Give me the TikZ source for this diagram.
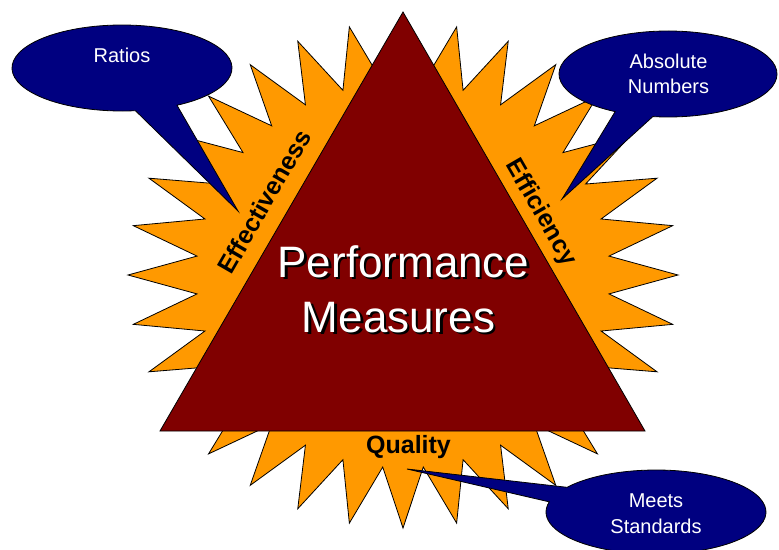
\documentclass[tikz,border=0pt]{standalone}
\usepackage{fontspec}
\setmainfont{Liberation Sans}
\usetikzlibrary{calc}
\definecolor{burst}{HTML}{FF9900}
\definecolor{maroonfill}{HTML}{800000}
\definecolor{navyfill}{HTML}{000080}
\begin{document}
\begin{tikzpicture}[x=1pt,y=-1pt,
  outline/.style={draw=black,line width=0.8pt,line join=miter},
  callout/.style={outline,fill=navyfill},
  bigtext/.style={font=\fontsize{44}{50}\selectfont,anchor=base,inner sep=0pt},
  edgelabel/.style={font=\bfseries\fontsize{25}{30}\selectfont,anchor=base,inner sep=0pt,text=black},
  calltext/.style={font=\fontsize{20}{25}\selectfont,anchor=base,inner sep=0pt,text=white}]
\clip (0,0) rectangle (779,549);
\fill[white] (0,0) rectangle (779,549);
% starburst
\draw[outline,fill=burst] plot[samples at={0,...,63}]
  ({403+(275-68*mod(\x,2))*cos(270+\x*5.625)},{275+(253-60*mod(\x,2))*sin(270+\x*5.625)}) -- cycle;
% triangle
\coordinate (apex) at (403,12);
\coordinate (bl) at (160,431);
\coordinate (br) at (645,431);
\draw[outline,fill=maroonfill] (apex) -- (bl) -- (br) -- cycle;
% callouts
\coordinate (rc) at (122,68);
\coordinate (rtip) at (238,211);
\draw[callout] (rtip) -- ($(rc)+(60:110 and 43)$) arc[start angle=60,end angle=-277,x radius=110,y radius=43] -- cycle;
\coordinate (ac) at (668,74);
\coordinate (atip) at (562,199);
\draw[callout] (atip) -- ($(ac)+(119:109 and 43)$) arc[start angle=119,end angle=458,x radius=109,y radius=43] -- cycle;
\coordinate (mc) at (656,512);
\coordinate (mtip) at (407,469);
\draw[callout] (mtip) -- ($(mc)+(216:110 and 42)$) arc[start angle=216,end angle=554,x radius=110,y radius=42] -- cycle;
% callout texts
\node[calltext] (ratios) at (122,62) {Ratios};
\node[calltext] (absolute) at (668.5,68) {Absolute};
\node[calltext] (numbers) at (668.5,93) {Numbers};
\node[calltext] (meets) at (656,507) {Meets};
\node[calltext] (standards) at (656,533) {Standards};
% title with shadow
\node[bigtext,text=black] (pshadow) at (406,279.5) {Performance};
\node[bigtext,text=white] (perf) at (403.5,277) {Performance};
\node[bigtext,text=black] (mshadow) at (401,334.5) {Measures};
\node[bigtext,text=white] (meas) at (398.5,332) {Measures};
% edge labels
\node[edgelabel,rotate=60] (effect) at (272,206) {Effectiveness};
\node[edgelabel,rotate=-60] (effic) at (535,216) {Efficiency};
\node[edgelabel] (quality) at (408.5,453) {Quality};
\end{tikzpicture}
\end{document}
